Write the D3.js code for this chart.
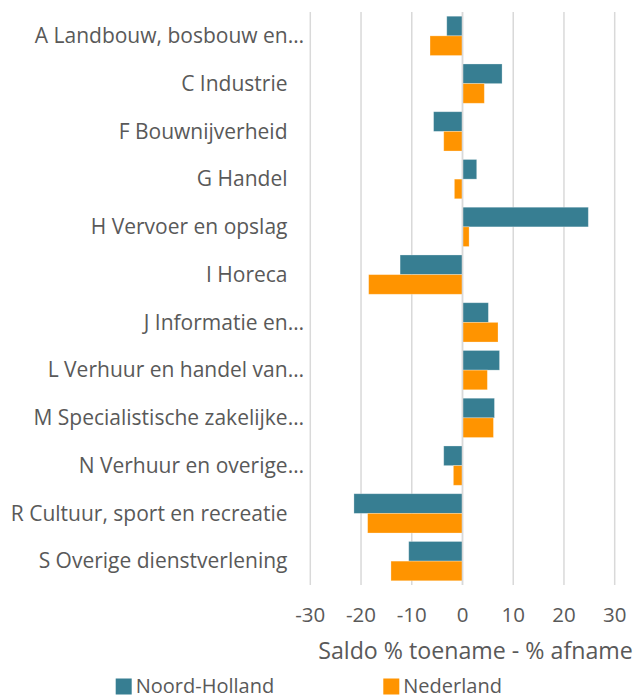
<!DOCTYPE html>
<html>
<head>
<meta charset="utf-8">
<script src="https://cdn.jsdelivr.net/npm/d3@7"></script>
<style>
  html, body { margin: 0; padding: 0; background: #fff; }
  svg { display: block; font-family: "Open Sans", sans-serif; }
</style>
</head>
<body>
<svg id="chart" width="637" height="699"></svg>
<script>
const categories = [
  "A Landbouw, bosbouw en…",
  "C Industrie",
  "F Bouwnijverheid",
  "G Handel",
  "H Vervoer en opslag",
  "I Horeca",
  "J Informatie en…",
  "L Verhuur en handel van…",
  "M Specialistische zakelijke…",
  "N Verhuur en overige…",
  "R Cultuur, sport en recreatie",
  "S Overige dienstverlening"
];
const noordHolland = [-3.1, 7.8, -5.7, 2.8, 24.8, -12.3, 5.1, 7.3, 6.3, -3.7, -21.4, -10.6];
const nederland    = [-6.4, 4.3, -3.7, -1.6, 1.3, -18.5, 7.0, 4.9, 6.1, -1.8, -18.7, -14.1];
const seriesNames = ["Noord-Holland", "Nederland"];
const xTicks = [-30, -20, -10, 0, 10, 20, 30];
const axisTitle = "Saldo % toename - % afname";

const colors = ["#377e92", "#ff9400"];
const textColor = "#595959";

const svg = d3.select("#chart");
const x = d3.scaleLinear().domain([-30, 30]).range([310.3, 614.7]);
const y = d3.scaleBand().domain(categories).range([12, 585]).paddingInner(0.177).paddingOuter(0.0885);
const ySub = d3.scaleBand().domain(seriesNames).range([0, y.bandwidth()]);

// gridlines
svg.append("g")
  .selectAll("line")
  .data(xTicks)
  .join("line")
  .attr("x1", d => x(d)).attr("x2", d => x(d))
  .attr("y1", 12).attr("y2", 585)
  .attr("stroke", "#d9d9d9").attr("stroke-width", 1.5);

const data = categories.map((c, i) => ({ cat: c, vals: [noordHolland[i], nederland[i]] }));

const groups = svg.append("g").selectAll("g")
  .data(data).join("g")
  .attr("transform", d => `translate(0,${y(d.cat)})`);

groups.selectAll("rect")
  .data(d => d.vals.map((v, k) => ({ v, k })))
  .join("rect")
  .attr("x", d => Math.min(x(0), x(d.v)))
  .attr("width", d => Math.abs(x(d.v) - x(0)))
  .attr("y", d => ySub(seriesNames[d.k]))
  .attr("height", ySub.bandwidth())
  .attr("fill", d => colors[d.k])
  .attr("stroke", "#ffffff").attr("stroke-opacity", 0.35).attr("stroke-width", 0.8);

// zero line
svg.append("line")
  .attr("x1", x(0)).attr("x2", x(0)).attr("y1", 12).attr("y2", 585)
  .attr("stroke", "#d9d9d9").attr("stroke-width", 1.5);

// category labels
svg.append("g").selectAll("text")
  .data(categories).join("text")
  .attr("x", d => d.endsWith("…") ? 304 : 287.5)
  .attr("y", d => y(d) + y.bandwidth() / 2)
  .attr("dy", "0.35em")
  .attr("text-anchor", "end")
  .attr("font-size", 21)
  .attr("fill", textColor)
  .text(d => d);

// x tick labels
svg.append("g").selectAll("text")
  .data(xTicks).join("text")
  .attr("x", d => x(d))
  .attr("y", 615)
  .attr("dy", "0.35em")
  .attr("text-anchor", "middle")
  .attr("font-size", 20.5)
  .attr("fill", textColor)
  .text(d => d);

// axis title
svg.append("text")
  .attr("x", 475.5).attr("y", 651)
  .attr("dy", "0.35em")
  .attr("text-anchor", "middle")
  .attr("font-size", 23.2)
  .attr("fill", textColor)
  .text(axisTitle);

// legend
const legendX = [115.7, 383.3];
const leg = svg.append("g").selectAll("g")
  .data(seriesNames).join("g")
  .attr("transform", (d, i) => `translate(${legendX[i]},0)`);
leg.append("rect")
  .attr("x", 0).attr("y", 678.5).attr("width", 16).attr("height", 16)
  .attr("fill", (d, i) => colors[i]);
leg.append("text")
  .attr("x", 20).attr("y", 685.5)
  .attr("dy", "0.35em")
  .attr("font-size", 20)
  .attr("fill", textColor)
  .text(d => d);
</script>
</body>
</html>
